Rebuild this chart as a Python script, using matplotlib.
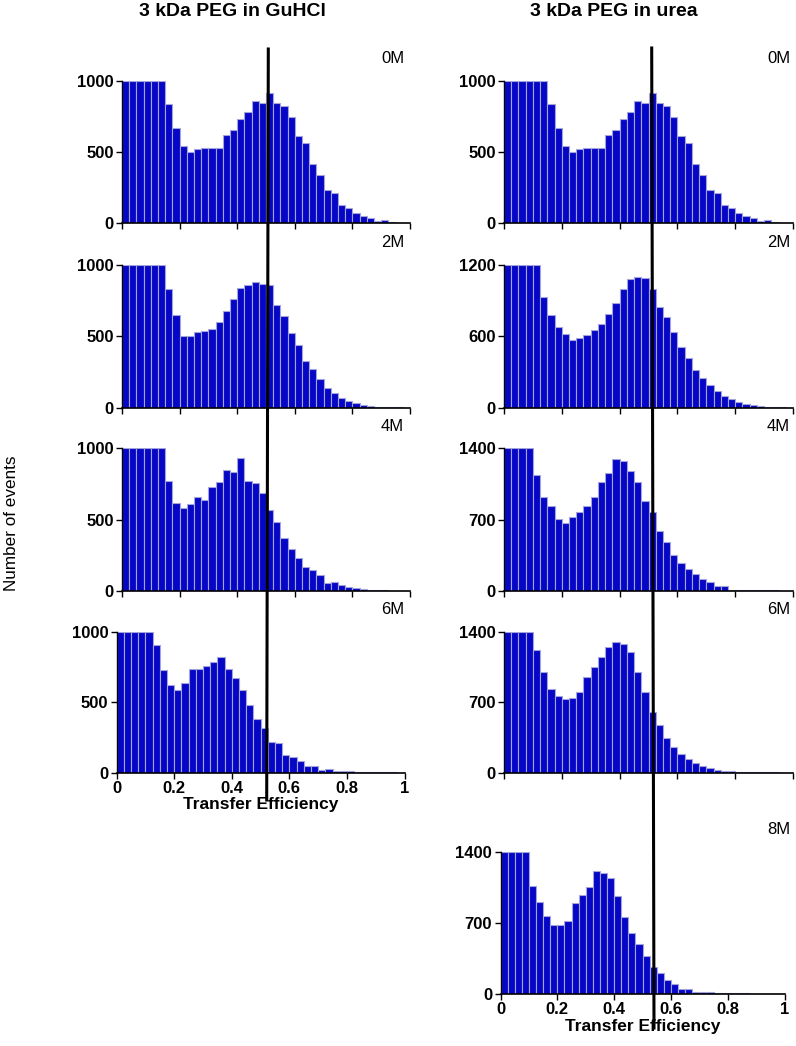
import numpy as np
import matplotlib.pyplot as plt
from matplotlib.lines import Line2D

plt.rcParams['font.family'] = ['Liberation Sans', 'DejaVu Sans']

W, H = 796, 1046

# bin edges: 40 bins of width 0.025 from 0 to 1
bin_width = 0.025
bin_left = np.arange(40) * bin_width

# counts per bin (bars at the axis top are clipped there)
gdn_0M = [1000, 1000, 1000, 1000, 1000, 1000, 836, 669, 542, 498,
          519, 526, 526, 531, 622, 653, 728, 779, 857, 847,
          913, 843, 826, 746, 613, 563, 418, 336, 235, 209,
          131, 108, 70, 49, 35, 14, 23, 9, 4, 2]
gdn_2M = [1000, 1000, 1000, 1000, 1000, 1000, 830, 650, 500, 500,
          530, 540, 550, 600, 680, 760, 840, 860, 880, 870,
          860, 720, 640, 520, 440, 330, 270, 200, 140, 100,
          70, 50, 35, 20, 15, 8, 5, 3, 2, 1]
gdn_4M = [1000, 1000, 1000, 1000, 1000, 1000, 772, 620, 580, 613,
          660, 639, 732, 762, 848, 834, 932, 772, 760, 690,
          566, 483, 373, 294, 233, 170, 145, 112, 56, 61,
          44, 28, 23, 12, 9, 7, 5, 3, 2, 1]
gdn_6M = [1000, 1000, 1000, 1000, 1000, 908, 728, 622, 589, 638,
          737, 732, 756, 784, 822, 735, 671, 589, 481, 380,
          317, 221, 211, 122, 110, 85, 45, 45, 19, 23,
          14, 9, 9, 7, 7, 6, 6, 3, 2, 1]

urea_0M = list(gdn_0M)
urea_2M = [1200, 1200, 1200, 1200, 1200, 930, 780, 680, 620, 570,
           590, 610, 650, 700, 790, 880, 1000, 1080, 1100, 1090,
           1000, 850, 760, 640, 510, 420, 320, 250, 190, 140,
           100, 70, 45, 30, 20, 12, 8, 5, 3, 1]
urea_4M = [1400, 1400, 1400, 1400, 1142, 919, 837, 710, 667, 723,
           772, 837, 922, 1073, 1161, 1292, 1279, 1181, 1066, 886,
           778, 592, 484, 350, 275, 216, 167, 114, 85, 49,
           52, 13, 13, 10, 13, 10, 7, 5, 3, 2]
urea_6M = [1400, 1400, 1400, 1400, 1220, 1000, 830, 760, 730, 740,
           800, 950, 1050, 1150, 1250, 1300, 1280, 1200, 1000, 800,
           600, 470, 340, 260, 190, 140, 100, 70, 50, 30,
           20, 15, 10, 8, 5, 4, 3, 2, 1, 1]
urea_8M = [1400, 1400, 1400, 1400, 1062, 902, 767, 682, 675, 718,
           895, 977, 1049, 1210, 1187, 1138, 961, 761, 600, 489,
           371, 266, 203, 141, 95, 52, 52, 20, 20, 16,
           10, 10, 7, 7, 5, 3, 2, 1, 1, 0]

gdn_labels = ['0M', '2M', '4M', '6M']
urea_labels = ['0M', '2M', '4M', '6M', '8M']
gdn_ymax = [1000, 1000, 1000, 1000]
urea_ymax = [1000, 1200, 1400, 1400, 1400]

bar_face = '#0606c6'
bar_edge = '#a4a4dc'


def rect(x0, ytop, x1, ybot):
    return [x0 / W, 1 - ybot / H, (x1 - x0) / W, (ybot - ytop) / H]


def panel(fig, box, counts, ymax, show_x):
    ax = fig.add_axes(box)
    ax.bar(bin_left, counts, width=bin_width, align='edge',
           color=bar_face, edgecolor=bar_edge, linewidth=0.8)
    ax.set_xlim(0, 1)
    ax.set_ylim(0, ymax)
    ax.set_yticks([0, ymax / 2, ymax])
    ax.set_yticklabels(['0', str(int(ymax / 2)), str(ymax)])
    ax.set_xticks([0, 0.2, 0.4, 0.6, 0.8, 1.0])
    for s in ['top', 'right']:
        ax.spines[s].set_visible(False)
    ax.spines['left'].set_linewidth(1.0)
    ax.spines['bottom'].set_linewidth(1.2)
    ax.tick_params(direction='out', length=4, width=1, pad=2,
                   labelsize=12)
    for t in ax.get_yticklabels():
        t.set_fontweight('bold')
    if show_x:
        ax.set_xticklabels(['0', '0.2', '0.4', '0.6', '0.8', '1'])
        for t in ax.get_xticklabels():
            t.set_fontweight('bold')
        ax.set_xlabel('Transfer Efficiency', fontsize=12.5,
                      fontweight='bold', labelpad=1)
    else:
        ax.set_xticklabels([])
    return ax


fig = plt.figure(figsize=(W / 100, H / 100), dpi=100)

# axes top/bottom pixel rows
rows = [(80.7, 223.3), (265, 407.7), (448.3, 591), (631.7, 772.7),
        (851.7, 994)]

gdn_sets = [gdn_0M, gdn_2M, gdn_4M, gdn_6M]
for i in range(4):
    top, bot = rows[i]
    x0 = 122 if i < 3 else 116.5
    panel(fig, rect(x0, top, x0 + 288, bot), gdn_sets[i], gdn_ymax[i],
          i == 3)
    fig.text(404 / W, 1 - (top - 22) / H, gdn_labels[i], ha='right',
             va='center', fontsize=12)

urea_sets = [urea_0M, urea_2M, urea_4M, urea_6M, urea_8M]
for i in range(5):
    top, bot = rows[i]
    if i < 4:
        box = rect(504, top, 793, bot)
    else:
        box = rect(500.5, top, 784.5, bot)
    panel(fig, box, urea_sets[i], urea_ymax[i], i == 4)
    fig.text(790 / W, 1 - (top - 22) / H, urea_labels[i], ha='right',
             va='center', fontsize=12)

fig.text(232 / W, 1 - 12 / H, '3 kDa PEG in GuHCl', ha='center',
         va='center', fontsize=14, fontweight='bold')
fig.text(614 / W, 1 - 12 / H, '3 kDa PEG in urea', ha='center',
         va='center', fontsize=14, fontweight='bold')
fig.text(12 / W, 0.5, 'Number of events', rotation=90, ha='center',
         va='center', fontsize=12.3)

# reference lines across the columns
fig.add_artist(Line2D([268.3 / W, 266.7 / W], [1 - 49 / H, 1 - 800 / H],
                      color='black', linewidth=2.2))
fig.add_artist(Line2D([651.7 / W, 654 / W], [1 - 48 / H, 1 - 1028 / H],
                      color='black', linewidth=2.2))

fig.savefig('out.png', dpi=100)
